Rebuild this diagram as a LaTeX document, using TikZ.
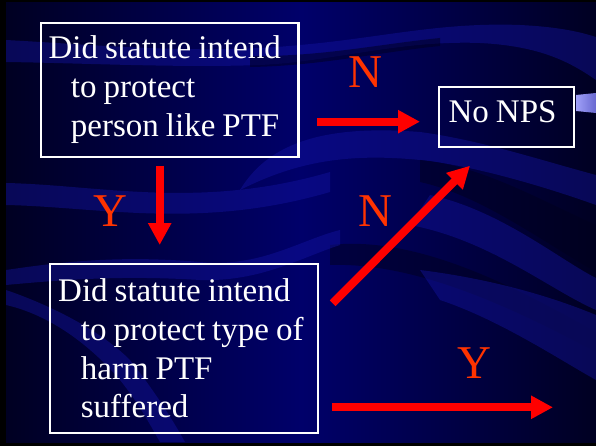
\documentclass[tikz,border=0pt]{standalone}
\usepackage{fontspec}
\setmainfont{Liberation Serif}
\usetikzlibrary{arrows.meta,calc}
\definecolor{bgdark}{HTML}{000022}
\definecolor{bgmid}{HTML}{00006A}
\definecolor{bandblue}{HTML}{1414A8}
\definecolor{banddark}{HTML}{00001E}
\definecolor{lblred}{HTML}{FF3300}
\definecolor{arrred}{HTML}{FF0000}
\definecolor{tabl}{HTML}{A0A0F8}
\definecolor{tabr}{HTML}{6868D0}
\newcommand{\qline}[1]{\mbox{\spaceskip=7pt plus 1pt\relax #1}}
\begin{document}
\begin{tikzpicture}[x=1pt,y=-1pt,
  qbox/.style={draw=white, line width=2.3pt, text=white, align=left,
    font=\fontsize{33}{38.7}\selectfont, inner xsep=8pt, inner ysep=0pt, outer sep=0pt},
  bigarrow/.style={draw=arrred, line width=8pt, -{Triangle[length=22pt,width=22pt]}},
  lbl/.style={text=lblred, font=\fontsize{47}{50}\selectfont, inner sep=0pt},
  band/.style={fill=bandblue, fill opacity=0.4},
  dband/.style={fill=banddark, fill opacity=0.5}]
\useasboundingbox (0,0) rectangle (596,446);
% frame and background
\fill[black] (0,0) rectangle (596,446);
\shade[left color=bgdark, right color=bgdark, middle color=bgmid] (6,3) rectangle (596,442);
\begin{scope}
\clip (6,3) rectangle (596,442);
% top light band
\fill[band] (6,40) .. controls (100,45) and (200,55) .. (300,45)
  .. controls (380,38) and (440,22) .. (520,25)
  .. controls (560,27) and (580,32) .. (596,37) -- (596,80)
  .. controls (570,62) and (540,46) .. (480,43)
  .. controls (400,40) and (330,62) .. (260,65)
  .. controls (180,68) and (80,63) .. (6,62) -- cycle;
% dark stripe under N
\fill[dband] (250,56) .. controls (320,57) and (380,44) .. (440,38) -- (440,46)
  .. controls (380,52) and (320,66) .. (250,67) -- cycle;
% left middle light band
\fill[band] (6,183) .. controls (100,185) and (200,210) .. (330,172) -- (330,192)
  .. controls (200,230) and (100,207) .. (6,205) -- cycle;
% arc band right of upper box
\fill[band] (240,190) .. controls (270,140) and (330,125) .. (420,132)
  .. controls (480,140) and (540,160) .. (596,175) -- (596,205)
  .. controls (540,185) and (470,165) .. (420,160)
  .. controls (340,152) and (290,165) .. (240,190) -- cycle;
% right diagonal bands
\fill[dband] (420,160) .. controls (480,165) and (540,200) .. (596,225) -- (596,272)
  .. controls (540,240) and (480,195) .. (420,182) -- cycle;
\fill[band] (430,195) .. controls (500,210) and (560,260) .. (596,278) -- (596,310)
  .. controls (550,290) and (490,240) .. (410,225) -- cycle;
\fill[dband] (330,245) .. controls (420,235) and (520,290) .. (596,332) -- (596,352)
  .. controls (520,312) and (420,262) .. (330,265) -- cycle;
\fill[band] (420,270) .. controls (500,280) and (560,300) .. (596,315) -- (596,380)
  .. controls (560,360) and (500,320) .. (440,300) -- cycle;
% lower left bands
\fill[band] (6,270) .. controls (60,262) and (120,255) .. (200,262)
  .. controls (260,268) and (300,240) .. (340,230) -- (340,245)
  .. controls (300,258) and (260,282) .. (200,280)
  .. controls (120,275) and (60,280) .. (6,285) -- cycle;
\fill[band] (6,305) .. controls (50,315) and (90,345) .. (120,380)
  .. controls (140,405) and (150,425) .. (160,442) -- (185,442)
  .. controls (170,415) and (150,385) .. (130,360)
  .. controls (100,330) and (50,305) .. (6,290) -- cycle;
% tab at right
\shade[left color=tabl, right color=tabr] (576,95) -- (596,93) -- (596,113) -- (576,111) -- cycle;
\end{scope}
% boxes
\node[qbox, minimum width=257.7pt, minimum height=134pt, text width=241.7pt] (box1) at (169.5,89.7)
  {\qline{Did statute intend}\\\qline{\hspace*{22.3pt}to protect}\\\qline{\hspace*{22.3pt}person like PTF}};
\node[qbox, minimum width=267.6pt, minimum height=168.4pt, text width=251.6pt, inner xsep=8pt] (box2) at (184,348.5)
  {\qline{Did statute intend}\\\qline{\hspace*{22.7pt}to protect type of}\\\qline{\hspace*{22.7pt}harm PTF}\\\qline{\hspace*{22.7pt}suffered}};
\node[qbox, minimum width=135pt, minimum height=60pt, text width=115.8pt, inner xsep=9.6pt, text depth=10pt] (nps) at (506.5,116.7)
  {\qline{No NPS}};
% labels
\node[lbl] (n1) at (365.6,72.5) {N};
\node[lbl] (y1) at (110,211) {Y};
\node[lbl] (n2) at (375,211) {N};
\node[lbl] (y2) at (474,363) {Y};
% arrows
\coordinate (yout) at (553,407.3);
\draw[bigarrow] ($(box1.east)+(19.05,32)$) -- ($(nps.west)+(-19,5)$);
\draw[bigarrow] ($(box1.south)+(-9.8,9.3)$) -- ($(box2.north)+(-24.3,-19.3)$);
\draw[bigarrow] ($(box2.east)+(14.8,-45.2)$) -- ($(nps.south)+(-36.5,19)$);
\draw[bigarrow] ($(box2.east)+(14,58.8)$) -- (yout);
\end{tikzpicture}
\end{document}
